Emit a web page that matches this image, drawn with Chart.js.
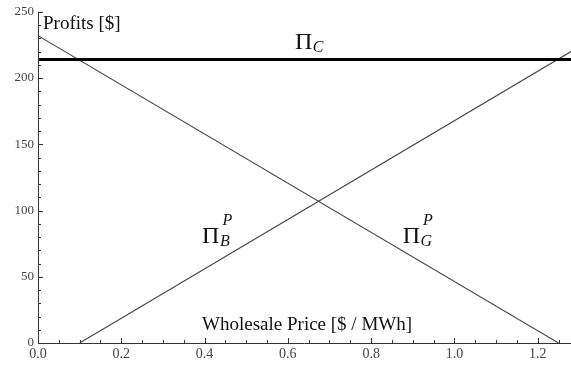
<!DOCTYPE html>
<html>
<head>
<meta charset="utf-8">
<script src="https://cdn.jsdelivr.net/npm/chart.js@4"></script>
<style>
  html, body { margin: 0; padding: 0; background: #fff; }
  #wrap { width: 571px; height: 372px; }
</style>
</head>
<body>
<div id="wrap"><canvas id="c" width="571" height="372"></canvas></div>
<script>
// ---- data ----
const xTicks = [0.0, 0.2, 0.4, 0.6, 0.8, 1.0, 1.2];
const yTicks = [0, 50, 100, 150, 200, 250];
const piC_x = [0, 1.28];
const piC_y = [214, 214];
const piB_x = [0.1, 1.28];
const piB_y = [0, 220];
const piG_x = [0, 1.25];
const piG_y = [232, 0];

function pts(xs, ys) { return xs.map((x, i) => ({ x: x, y: ys[i] })); }

const SERIF = '"Liberation Serif", "DejaVu Serif", serif';

const decor = {
  id: 'decor',
  afterDraw(chart) {
    const ctx = chart.ctx;
    const xs = chart.scales.x, ys = chart.scales.y;
    const a = chart.chartArea;
    ctx.save();
    // axes
    ctx.strokeStyle = '#333';
    ctx.lineWidth = 1;
    ctx.beginPath();
    ctx.moveTo(a.left + 0.5, a.top);
    ctx.lineTo(a.left + 0.5, a.bottom + 0.5);
    ctx.lineTo(a.right, a.bottom + 0.5);
    ctx.stroke();
    // x ticks (inward)
    ctx.beginPath();
    for (let i = 0; i <= 25; i++) {
      const v = i * 0.05;
      const px = Math.round(xs.getPixelForValue(v)) + 0.5;
      const len = (i % 4 === 0) ? 5 : 3;
      ctx.moveTo(px, a.bottom);
      ctx.lineTo(px, a.bottom - len);
    }
    // y ticks (inward)
    for (let i = 0; i <= 25; i++) {
      const v = i * 10;
      const py = Math.round(ys.getPixelForValue(v)) + 0.5;
      const len = (i % 5 === 0) ? 5 : 3;
      ctx.moveTo(a.left, py);
      ctx.lineTo(a.left + len, py);
    }
    ctx.stroke();

    // text labels
    ctx.fillStyle = '#111';
    ctx.textBaseline = 'alphabetic';
    ctx.textAlign = 'left';
    const X = v => xs.getPixelForValue(v);
    const Y = v => ys.getPixelForValue(v);

    ctx.font = '19px ' + SERIF;
    ctx.fillText('Profits [$]', X(0.012), Y(237));
    ctx.fillText('Wholesale Price [$ / MWh]', X(0.394), Y(9.7));

    function pi(x, y, sub, sup) {
      ctx.font = '24px ' + SERIF;
      ctx.fillText('\u03A0', x, y);
      const w = ctx.measureText('\u03A0').width;
      ctx.font = 'italic 16px ' + SERIF;
      ctx.fillText(sub, x + w + 0.5, y + 3);
      if (sup) {
        ctx.fillText(sup, x + w + 3, y - 18);
      }
    }
    pi(X(0.617), Y(221.6), 'C', null);
    pi(X(0.394), Y(75.4), 'B', 'P');
    pi(X(0.876), Y(75.4), 'G', 'P');
    ctx.restore();
  }
};

new Chart(document.getElementById('c'), {
  type: 'line',
  data: {
    datasets: [
      { data: pts(piC_x, piC_y), borderColor: '#000', borderWidth: 3, pointRadius: 0, tension: 0 },
      { data: pts(piB_x, piB_y), borderColor: '#444', borderWidth: 1.1, pointRadius: 0, tension: 0 },
      { data: pts(piG_x, piG_y), borderColor: '#444', borderWidth: 1.1, pointRadius: 0, tension: 0 }
    ]
  },
  options: {
    responsive: false,
    animation: false,
    devicePixelRatio: 1,
    layout: { padding: { top: 8, right: 0, left: 0, bottom: 0 } },
    plugins: { legend: { display: false }, tooltip: { enabled: false } },
    scales: {
      x: {
        type: 'linear', min: 0, max: 1.28,
        grid: { display: false, drawTicks: false },
        border: { display: false },
        afterBuildTicks: s => { s.ticks = xTicks.map(v => ({ value: v })); },
        afterFit: s => { s.height = 29; },
        ticks: {
          padding: 3, color: '#444', maxRotation: 0, autoSkip: false,
          font: { family: SERIF, size: 14 },
          callback: v => Number(v).toFixed(1)
        }
      },
      y: {
        type: 'linear', min: 0, max: 250,
        grid: { display: false, drawTicks: false },
        border: { display: false },
        afterBuildTicks: s => { s.ticks = yTicks.map(v => ({ value: v })); },
        afterFit: s => { s.width = 38; },
        ticks: {
          padding: 4, color: '#444', autoSkip: false,
          font: { family: SERIF, size: 13 },
          callback: v => String(v)
        }
      }
    }
  },
  plugins: [decor]
});
</script>
</body>
</html>
